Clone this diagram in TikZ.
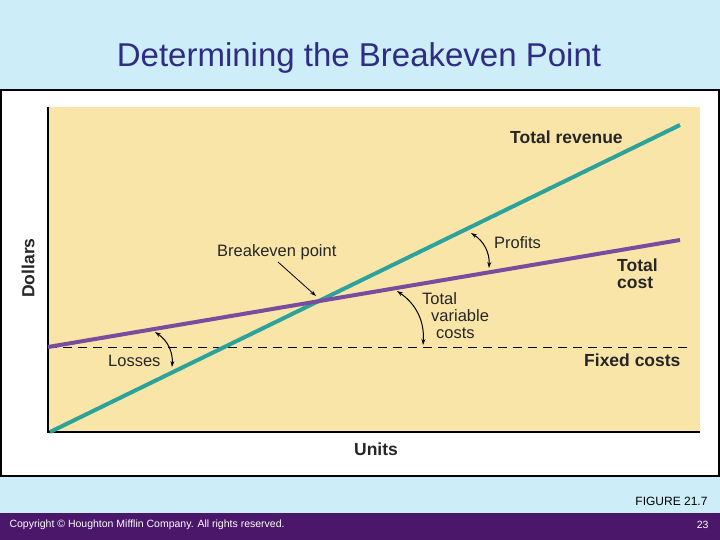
\documentclass[tikz,border=0pt]{standalone}
\usepackage{fontspec}
\setmainfont{Liberation Sans}
\usetikzlibrary{arrows.meta}
\definecolor{bg}{HTML}{CDEEF8}
\definecolor{ttl}{HTML}{2E2C83}
\definecolor{ylw}{HTML}{FAE5A8}
\definecolor{teal}{HTML}{2CA39A}
\definecolor{purp}{HTML}{7A4C9F}
\definecolor{bar}{HTML}{4A176A}
\begin{document}
\begin{tikzpicture}[x=1pt,y=-1pt,
  lbl/.style={font=\fontsize{16.5}{17}\selectfont, text=black!85, inner sep=0pt},
  blbl/.style={lbl, font=\fontsize{17.5}{17}\selectfont\bfseries},
  ca/.style={{Stealth[length=6pt,width=4pt]}-{Stealth[length=6pt,width=4pt]}, line width=1pt},
  sa/.style={-{Stealth[length=6pt,width=4pt]}, line width=0.8pt}]
\fill[bg] (0,0) rectangle (720,540);
\useasboundingbox (0,0) rectangle (720,540);
\node[text=ttl, font=\fontsize{33}{35}\selectfont] (title) at (359,58) {Determining the Breakeven Point};
\draw[fill=white, line width=1.5pt] (1,90) rectangle (719,476);
\fill[ylw] (48,107) rectangle (700,432);
\draw[line width=1.2pt] (48,107) -- (48,432) -- (700,432);
\coordinate (fcL) at (48,347); \coordinate (fcR) at (690,347);
\draw[dashed, dash pattern=on 9pt off 6pt, line width=1pt] (fcL) -- (fcR);
\coordinate (tcL) at (48,347); \coordinate (tcR) at (680,240);
\coordinate (trL) at (50,432); \coordinate (trR) at (680,125);
\draw[teal, line width=4pt] (trL) -- (trR);
\draw[purp, line width=4pt] (tcL) -- (tcR);
\node[blbl, anchor=west] (tr) at (510,137) {Total revenue};
\node[blbl, anchor=west, align=left] (tc) at (617,274) {Total\\cost};
\node[blbl, anchor=west] (fc) at (584,360) {Fixed costs};
\node[lbl, anchor=west] (pr) at (494,243) {Profits};
\node[lbl, anchor=west, align=left] (tvc) at (422,316) {Total\\\hspace*{9pt}variable\\\hspace*{14pt}costs};
\node[lbl, anchor=west] (lo) at (108,361) {Losses};
\node[lbl, anchor=west] (be) at (217,252) {Breakeven point};
\node[blbl] (units) at (376,449) {Units};
\node[blbl, rotate=90] (dol) at (28,268) {Dollars};
\coordinate (bep) at (316,296);
\coordinate (bs) at (278,262);
\draw[sa] (bs) -- (bep);
\coordinate (p1) at (471,233); \coordinate (p2) at (489,268);
\draw[ca] (p1) to[bend left=30] (p2);
\coordinate (v1) at (397,291); \coordinate (v2) at (423,345);
\draw[ca] (v1) to[bend left=30] (v2);
\coordinate (l1) at (155,332); \coordinate (l2) at (172,367);
\draw[ca] (l1) to[bend left=30] (l2);
\node[anchor=east, font=\fontsize{12}{13}\selectfont] (fig) at (711,501) {FIGURE 21.7};
\fill[bar] (0,513) rectangle (720,540);
\node[anchor=west, text=white, font=\fontsize{10.5}{11}\selectfont] (copy) at (6,525) {Copyright © Houghton Mifflin Company. All rights reserved.};
\node[anchor=east, text=white, font=\fontsize{10.5}{11}\selectfont] (pg) at (712,525) {23};
\end{tikzpicture}
\end{document}
